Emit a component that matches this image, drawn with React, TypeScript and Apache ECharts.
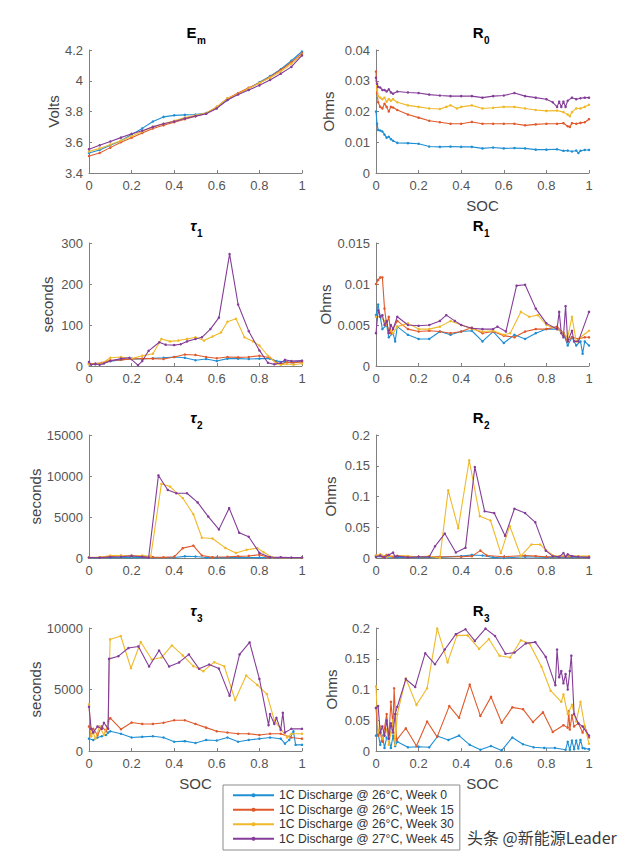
import React, { useEffect, useRef } from "react";
import * as echarts from "echarts";

// ---------- Data ----------
const SERIES_NAMES = [
  "1C Discharge @ 26°C, Week 0",
  "1C Discharge @ 26°C, Week 15",
  "1C Discharge @ 26°C, Week 30",
  "1C Discharge @ 27°C, Week 45",
];
const COLORS = ["#1f8fd4", "#e0592a", "#efb92a", "#843d98"];

const SOC_TICKS = [0, 0.2, 0.4, 0.6, 0.8, 1];

// Em (Volts)
const emW0 = [[0,3.53],[0.05,3.55],[0.1,3.58],[0.15,3.61],[0.2,3.65],[0.25,3.69],[0.3,3.735],[0.35,3.765],[0.4,3.775],[0.45,3.778],[0.5,3.78],[0.55,3.79],[0.6,3.825],[0.65,3.875],[0.7,3.915],[0.75,3.95],[0.8,3.99],[0.85,4.03],[0.9,4.075],[0.95,4.13],[1,4.19]];
const emW15 = [[0,3.51],[0.05,3.53],[0.1,3.565],[0.15,3.6],[0.2,3.63],[0.25,3.66],[0.3,3.69],[0.35,3.71],[0.4,3.73],[0.45,3.75],[0.5,3.77],[0.55,3.785],[0.6,3.83],[0.65,3.885],[0.7,3.92],[0.75,3.955],[0.8,3.985],[0.85,4.025],[0.9,4.07],[0.95,4.12],[1,4.18]];
const emW30 = [[0,3.54],[0.05,3.56],[0.1,3.585],[0.15,3.61],[0.2,3.64],[0.25,3.67],[0.3,3.7],[0.35,3.72],[0.4,3.74],[0.45,3.76],[0.5,3.775],[0.55,3.79],[0.6,3.83],[0.65,3.885],[0.7,3.915],[0.75,3.95],[0.8,3.985],[0.85,4.02],[0.9,4.06],[0.95,4.11],[1,4.17]];
const emW45 = [[0,3.555],[0.05,3.58],[0.1,3.605],[0.15,3.63],[0.2,3.655],[0.25,3.675],[0.3,3.7],[0.35,3.72],[0.4,3.735],[0.45,3.755],[0.5,3.77],[0.55,3.785],[0.6,3.82],[0.65,3.875],[0.7,3.91],[0.75,3.94],[0.8,3.97],[0.85,4.005],[0.9,4.045],[0.95,4.09],[1,4.165]];
const emTicks = [3.4, 3.6, 3.8, 4, 4.2];

// R0 (Ohms)
const r0W0 = [[0,0.020],[0.005,0.016],[0.01,0.014],[0.02,0.0138],[0.03,0.0135],[0.04,0.0125],[0.05,0.0115],[0.06,0.0118],[0.07,0.011],[0.08,0.0105],[0.1,0.0098],[0.15,0.0097],[0.2,0.0095],[0.25,0.0086],[0.3,0.0085],[0.35,0.0086],[0.4,0.0085],[0.45,0.0085],[0.5,0.008],[0.55,0.0083],[0.6,0.008],[0.65,0.0081],[0.7,0.008],[0.75,0.0076],[0.8,0.0076],[0.85,0.0077],[0.88,0.0072],[0.9,0.0073],[0.92,0.007],[0.94,0.0073],[0.95,0.0065],[0.96,0.0072],[0.98,0.0075],[1,0.0075]];
const r0W15 = [[0,0.033],[0.005,0.026],[0.01,0.023],[0.02,0.0215],[0.03,0.021],[0.04,0.0225],[0.05,0.0215],[0.06,0.020],[0.07,0.0215],[0.08,0.0213],[0.1,0.0205],[0.15,0.019],[0.2,0.018],[0.25,0.017],[0.3,0.0165],[0.35,0.016],[0.4,0.016],[0.45,0.0166],[0.5,0.016],[0.55,0.016],[0.6,0.016],[0.65,0.016],[0.7,0.0155],[0.75,0.0158],[0.8,0.016],[0.85,0.016],[0.88,0.0162],[0.9,0.0152],[0.91,0.015],[0.92,0.0162],[0.94,0.016],[0.96,0.0163],[0.98,0.0165],[1,0.0175]];
const r0W30 = [[0,0.030],[0.005,0.027],[0.01,0.025],[0.02,0.0245],[0.03,0.024],[0.04,0.0245],[0.05,0.0232],[0.06,0.024],[0.07,0.0235],[0.08,0.024],[0.1,0.023],[0.15,0.022],[0.2,0.0215],[0.25,0.021],[0.3,0.0208],[0.33,0.0215],[0.35,0.022],[0.38,0.021],[0.4,0.0215],[0.45,0.022],[0.5,0.021],[0.55,0.0212],[0.6,0.0215],[0.65,0.0215],[0.7,0.021],[0.75,0.0205],[0.8,0.0202],[0.85,0.0203],[0.88,0.0198],[0.9,0.019],[0.91,0.0185],[0.92,0.0198],[0.94,0.021],[0.96,0.021],[0.98,0.0215],[1,0.0222]];
const r0W45 = [[0,0.031],[0.005,0.029],[0.01,0.028],[0.02,0.0278],[0.03,0.027],[0.04,0.027],[0.05,0.0265],[0.06,0.0272],[0.07,0.0262],[0.08,0.0258],[0.1,0.0265],[0.15,0.0262],[0.2,0.026],[0.25,0.0255],[0.3,0.0252],[0.35,0.025],[0.4,0.025],[0.45,0.025],[0.5,0.0245],[0.55,0.025],[0.6,0.0252],[0.65,0.026],[0.7,0.025],[0.75,0.0245],[0.8,0.024],[0.83,0.023],[0.85,0.0215],[0.86,0.0232],[0.87,0.0215],[0.88,0.0232],[0.89,0.0215],[0.9,0.0235],[0.92,0.0245],[0.94,0.024],[0.96,0.0243],[0.98,0.0245],[1,0.0245]];
const r0Ticks = [0, 0.01, 0.02, 0.03, 0.04];

// tau1 (seconds)
const t1W0 = [[0,5],[0.03,4],[0.06,6],[0.1,12],[0.15,15],[0.2,18],[0.25,17],[0.3,19],[0.35,20],[0.4,22],[0.45,20],[0.5,14],[0.55,17],[0.6,12],[0.65,18],[0.7,18],[0.75,17],[0.8,18],[0.85,18],[0.88,12],[0.92,10],[0.95,9],[1,12]];
const t1W15 = [[0,6],[0.03,6],[0.06,8],[0.1,14],[0.15,15],[0.2,17],[0.25,18],[0.3,18],[0.35,17],[0.4,22],[0.45,28],[0.5,27],[0.55,22],[0.6,19],[0.65,22],[0.7,21],[0.75,22],[0.8,25],[0.85,20],[0.88,8],[0.9,5],[0.93,9],[0.96,8],[1,10]];
const t1W30 = [[0,4],[0.03,4],[0.06,6],[0.1,20],[0.15,22],[0.2,18],[0.25,25],[0.3,30],[0.34,66],[0.38,60],[0.42,62],[0.46,66],[0.5,70],[0.54,62],[0.58,72],[0.62,82],[0.65,108],[0.69,115],[0.73,70],[0.77,60],[0.8,50],[0.84,25],[0.88,6],[0.9,3],[0.93,5],[0.96,3],[1,6]];
const t1W45 = [[0,10],[0.01,3],[0.03,5],[0.05,3],[0.07,6],[0.1,12],[0.15,18],[0.19,20],[0.23,2],[0.25,12],[0.28,37],[0.33,58],[0.36,52],[0.4,51],[0.43,53],[0.46,60],[0.5,66],[0.53,70],[0.57,90],[0.61,118],[0.66,273],[0.7,150],[0.75,85],[0.8,38],[0.84,8],[0.87,4],[0.9,8],[0.92,15],[0.95,12],[1,13]];
const t1Ticks = [0, 100, 200, 300];

// R1 (Ohms)
const r1W0 = [[0,0.0062],[0.01,0.0075],[0.02,0.006],[0.03,0.0045],[0.05,0.005],[0.06,0.0035],[0.08,0.004],[0.09,0.003],[0.1,0.0048],[0.15,0.0038],[0.2,0.0033],[0.25,0.0033],[0.3,0.0042],[0.35,0.0038],[0.4,0.0042],[0.45,0.0043],[0.5,0.003],[0.55,0.0042],[0.6,0.0028],[0.65,0.0038],[0.7,0.0033],[0.75,0.004],[0.8,0.0045],[0.85,0.0045],[0.88,0.004],[0.9,0.0025],[0.92,0.0035],[0.94,0.0025],[0.96,0.003],[0.97,0.0015],[0.98,0.003],[1,0.0025]];
const r1W15 = [[0,0.010],[0.01,0.0105],[0.02,0.0108],[0.03,0.0108],[0.04,0.007],[0.05,0.005],[0.06,0.006],[0.07,0.004],[0.08,0.0045],[0.1,0.0055],[0.15,0.0045],[0.2,0.0042],[0.25,0.0043],[0.3,0.0042],[0.35,0.004],[0.4,0.0042],[0.45,0.0047],[0.5,0.004],[0.55,0.0042],[0.6,0.0037],[0.65,0.0035],[0.7,0.0042],[0.75,0.0045],[0.8,0.0045],[0.85,0.0048],[0.88,0.004],[0.9,0.003],[0.92,0.0035],[0.95,0.0033],[0.98,0.0035],[1,0.0035]];
const r1W30 = [[0,0.006],[0.02,0.006],[0.04,0.0055],[0.06,0.0045],[0.08,0.004],[0.1,0.0048],[0.15,0.0052],[0.2,0.0045],[0.25,0.0045],[0.3,0.0048],[0.35,0.0055],[0.4,0.005],[0.45,0.0045],[0.5,0.0042],[0.55,0.0043],[0.6,0.0038],[0.63,0.004],[0.68,0.0066],[0.72,0.006],[0.76,0.0062],[0.8,0.005],[0.85,0.0045],[0.88,0.004],[0.9,0.0035],[0.92,0.006],[0.94,0.003],[0.96,0.0035],[1,0.0043]];
const r1W45 = [[0,0.004],[0.01,0.0068],[0.02,0.006],[0.03,0.0062],[0.04,0.005],[0.05,0.0055],[0.06,0.004],[0.07,0.005],[0.08,0.0045],[0.1,0.006],[0.15,0.005],[0.2,0.0049],[0.25,0.005],[0.3,0.0055],[0.33,0.0062],[0.37,0.0055],[0.4,0.005],[0.45,0.0046],[0.5,0.0045],[0.55,0.0045],[0.57,0.0048],[0.61,0.0042],[0.66,0.0098],[0.7,0.0099],[0.75,0.007],[0.8,0.0052],[0.85,0.0045],[0.86,0.0066],[0.87,0.004],[0.88,0.0035],[0.89,0.0073],[0.9,0.003],[0.92,0.0043],[0.93,0.003],[0.95,0.003],[1,0.0066]];
const r1Ticks = [0, 0.005, 0.01, 0.015];

// tau2 (seconds)
const t2W0 = [[0,20],[0.1,50],[0.2,60],[0.3,40],[0.4,60],[0.45,200],[0.5,180],[0.55,60],[0.6,40],[0.7,60],[0.8,50],[0.9,30],[1,20]];
const t2W15 = [[0,50],[0.05,100],[0.1,200],[0.15,250],[0.2,300],[0.25,200],[0.3,100],[0.35,80],[0.4,150],[0.44,1200],[0.49,1500],[0.53,300],[0.58,100],[0.65,150],[0.7,200],[0.75,250],[0.8,400],[0.84,100],[0.9,50],[1,30]];
const t2W30 = [[0,80],[0.05,100],[0.1,300],[0.15,300],[0.2,200],[0.25,300],[0.29,200],[0.34,9040],[0.38,8710],[0.44,7310],[0.49,5340],[0.53,2470],[0.58,2380],[0.64,1230],[0.69,620],[0.74,1000],[0.79,1200],[0.82,700],[0.86,100],[0.9,50],[1,0]];
const t2W45 = [[0,60],[0.05,40],[0.1,120],[0.15,150],[0.2,250],[0.25,150],[0.28,50],[0.326,10070],[0.37,8300],[0.41,7900],[0.46,7900],[0.51,6780],[0.56,5050],[0.61,3490],[0.658,6080],[0.705,3080],[0.75,2590],[0.8,620],[0.85,100],[0.9,80],[0.95,60],[1,50]];
const t2Ticks = [0, 5000, 10000, 15000];

// R2 (Ohms)
const r2W0 = [[0,0.002],[0.1,0.001],[0.2,0.001],[0.3,0.001],[0.4,0.003],[0.45,0.005],[0.5,0.004],[0.55,0.001],[0.6,0.0],[0.7,0.002],[0.8,0.001],[0.9,0.001],[1,0.001]];
const r2W15 = [[0,0.004],[0.03,0.002],[0.05,0.005],[0.08,0.002],[0.1,0.003],[0.2,0.002],[0.3,0.002],[0.4,0.002],[0.45,0.003],[0.49,0.012],[0.52,0.004],[0.6,0.002],[0.7,0.004],[0.75,0.003],[0.8,0.002],[0.9,0.002],[1,0.002]];
const r2W30 = [[0,0.004],[0.02,0.006],[0.05,0.002],[0.1,0.004],[0.15,0.003],[0.2,0.002],[0.25,0.003],[0.3,0.0],[0.339,0.110],[0.386,0.0485],[0.4375,0.159],[0.4875,0.068],[0.5375,0.061],[0.586,0.008],[0.628,0.052],[0.68,0.003],[0.73,0.022],[0.77,0.022],[0.8,0.012],[0.84,0.003],[0.9,0.004],[0.95,0.003],[1,0.003]];
const r2W45 = [[0,0.002],[0.02,0.004],[0.04,0.001],[0.06,0.005],[0.08,0.009],[0.09,0.002],[0.1,0.003],[0.15,0.001],[0.2,0.002],[0.25,0.002],[0.277,0.019],[0.323,0.0397],[0.375,0.009],[0.42,0.0165],[0.464,0.148],[0.51,0.076],[0.555,0.073],[0.606,0.036],[0.65,0.08],[0.7,0.073],[0.748,0.058],[0.797,0.012],[0.83,0.003],[0.86,0.002],[0.88,0.008],[0.89,0.002],[0.9,0.006],[0.92,0.003],[0.95,0.002],[1,0.001]];
const r2Ticks = [0, 0.05, 0.1, 0.15, 0.2];

// tau3 (seconds)
const t3W0 = [[0,1000],[0.02,900],[0.04,1100],[0.06,1200],[0.08,1300],[0.09,1500],[0.1,1600],[0.15,1400],[0.2,1100],[0.25,1150],[0.3,1200],[0.35,1100],[0.4,750],[0.45,800],[0.5,650],[0.55,900],[0.6,850],[0.65,1100],[0.7,750],[0.75,900],[0.8,1000],[0.85,1100],[0.9,1000],[0.92,600],[0.94,900],[0.96,1600],[0.97,500],[1,500]];
const t3W15 = [[0,2000],[0.01,1200],[0.02,1800],[0.04,1300],[0.06,2000],[0.08,1600],[0.09,2400],[0.1,2670],[0.15,1770],[0.2,2320],[0.25,2200],[0.3,2200],[0.35,2300],[0.4,2500],[0.45,2500],[0.5,2200],[0.55,1900],[0.6,1600],[0.65,1500],[0.7,1400],[0.75,1400],[0.8,1300],[0.85,1400],[0.9,1400],[0.95,1100],[1,1000]];
const t3W30 = [[0,3800],[0.01,1200],[0.02,1500],[0.03,1000],[0.05,2000],[0.07,1300],[0.09,2300],[0.099,9070],[0.149,9350],[0.197,6730],[0.243,8860],[0.295,7440],[0.34,7600],[0.389,8580],[0.44,7770],[0.49,6900],[0.537,6490],[0.588,7220],[0.635,6890],[0.686,4140],[0.738,6130],[0.79,5370],[0.835,4630],[0.87,2500],[0.9,1800],[0.93,1100],[0.95,1400],[1,1400]];
const t3W45 = [[0,3600],[0.01,1800],[0.02,1500],[0.04,2000],[0.06,1800],[0.07,2300],[0.09,1800],[0.094,7490],[0.138,7710],[0.185,8370],[0.232,8500],[0.282,6870],[0.329,8170],[0.376,6870],[0.423,7200],[0.469,7850],[0.517,6680],[0.564,7030],[0.61,6700],[0.66,4500],[0.707,7850],[0.754,8830],[0.8,5860],[0.843,2100],[0.85,3000],[0.87,2200],[0.88,2700],[0.9,1700],[0.91,3100],[0.92,1500],[0.95,1800],[1,1800]];
const t3Ticks = [0, 5000, 10000];

// R3 (Ohms)
const r3W0 = [[0,0.025],[0.01,0.028],[0.02,0.01],[0.03,0.025],[0.04,0.005],[0.05,0.022],[0.06,0.02],[0.07,0.005],[0.08,0.025],[0.09,0.008],[0.1,0.015],[0.15,0.006],[0.2,0.007],[0.25,0.006],[0.29,0.024],[0.34,0.018],[0.39,0.025],[0.44,0.01],[0.49,0.002],[0.54,0.008],[0.59,0.001],[0.64,0.022],[0.69,0.011],[0.74,0.006],[0.79,0.005],[0.84,0.005],[0.89,0.002],[0.9,0.015],[0.91,0.002],[0.92,0.017],[0.93,0.003],[0.94,0.017],[0.95,0.004],[0.96,0.018],[0.97,0.005],[0.98,0.004],[1,0.003]];
const r3W15 = [[0,0.07],[0.01,0.025],[0.02,0.03],[0.03,0.015],[0.05,0.06],[0.06,0.02],[0.07,0.08],[0.08,0.04],[0.085,0.102],[0.097,0.018],[0.14,0.037],[0.19,0.008],[0.24,0.048],[0.287,0.023],[0.344,0.073],[0.39,0.054],[0.44,0.108],[0.49,0.057],[0.54,0.088],[0.59,0.046],[0.64,0.071],[0.69,0.068],[0.737,0.047],[0.784,0.063],[0.83,0.031],[0.88,0.042],[0.9,0.038],[0.905,0.065],[0.91,0.035],[0.92,0.058],[0.93,0.04],[0.95,0.045],[0.97,0.03],[0.98,0.04],[1,0.022]];
const r3W30 = [[0,0.105],[0.01,0.03],[0.02,0.04],[0.03,0.02],[0.05,0.035],[0.06,0.01],[0.07,0.03],[0.08,0.05],[0.09,0.01],[0.1,0.06],[0.14,0.118],[0.19,0.075],[0.24,0.102],[0.2875,0.199],[0.336,0.144],[0.38,0.188],[0.43,0.188],[0.484,0.166],[0.53,0.182],[0.58,0.155],[0.63,0.152],[0.68,0.18],[0.72,0.175],[0.777,0.137],[0.82,0.098],[0.87,0.08],[0.88,0.092],[0.9,0.06],[0.92,0.075],[0.94,0.048],[0.96,0.08],[0.98,0.04],[1,0.012]];
const r3W45 = [[0,0.07],[0.01,0.073],[0.02,0.03],[0.03,0.04],[0.04,0.025],[0.05,0.05],[0.06,0.02],[0.07,0.045],[0.08,0.03],[0.09,0.06],[0.1,0.072],[0.14,0.117],[0.184,0.104],[0.231,0.159],[0.277,0.141],[0.323,0.165],[0.375,0.19],[0.42,0.198],[0.464,0.179],[0.514,0.199],[0.559,0.187],[0.608,0.158],[0.65,0.16],[0.703,0.175],[0.748,0.177],[0.797,0.153],[0.842,0.107],[0.85,0.165],[0.86,0.12],[0.87,0.13],[0.88,0.11],[0.89,0.125],[0.9,0.1],[0.91,0.13],[0.917,0.155],[0.93,0.06],[0.95,0.045],[0.97,0.04],[1,0.025]];
const r3Ticks = [0, 0.05, 0.1, 0.15, 0.2];

// ---------- Panels ----------
const PANELS = [
  { title: "E", sub: "m", italic: false, series: [emW0, emW15, emW30, emW45], ticks: emTicks, yName: "Volts", xName: "" },
  { title: "R", sub: "0", italic: false, series: [r0W0, r0W15, r0W30, r0W45], ticks: r0Ticks, yName: "Ohms", xName: "SOC" },
  { title: "τ", sub: "1", italic: true, series: [t1W0, t1W15, t1W30, t1W45], ticks: t1Ticks, yName: "seconds", xName: "" },
  { title: "R", sub: "1", italic: false, series: [r1W0, r1W15, r1W30, r1W45], ticks: r1Ticks, yName: "Ohms", xName: "" },
  { title: "τ", sub: "2", italic: true, series: [t2W0, t2W15, t2W30, t2W45], ticks: t2Ticks, yName: "seconds", xName: "" },
  { title: "R", sub: "2", italic: false, series: [r2W0, r2W15, r2W30, r2W45], ticks: r2Ticks, yName: "Ohms", xName: "" },
  { title: "τ", sub: "3", italic: true, series: [t3W0, t3W15, t3W30, t3W45], ticks: t3Ticks, yName: "seconds", xName: "SOC" },
  { title: "R", sub: "3", italic: false, series: [r3W0, r3W15, r3W30, r3W45], ticks: r3Ticks, yName: "Ohms", xName: "SOC" },
];

// layout
const COL_LEFT = [89, 376];
const ROW_TOP = [50, 243, 435, 628];
const GRID_W = 213;
const GRID_H = 123;
const Y_NAME_GAP = [28, 40, 34, 43, 46, 38, 46, 37];

const FONT = "'Liberation Sans', Arial, Helvetica, sans-serif";
const AXIS_COLOR = "#808080";
const LABEL_COLOR = "#555555";

function fmt(v: number) {
  return String(parseFloat(v.toFixed(6)));
}

export default function App() {
  const ref = useRef<HTMLDivElement>(null);

  useEffect(() => {
    if (!ref.current) return;
    const chart = echarts.init(ref.current, null, { renderer: "svg" });

    const grids: any[] = [];
    const xAxes: any[] = [];
    const yAxes: any[] = [];
    const series: any[] = [];
    const graphics: any[] = [];

    PANELS.forEach((p, i) => {
      const row = Math.floor(i / 2);
      const col = i % 2;
      const left = COL_LEFT[col];
      const top = ROW_TOP[row];
      grids.push({ left, top, width: GRID_W, height: GRID_H, containLabel: false });

      xAxes.push({
        type: "value",
        gridIndex: i,
        min: SOC_TICKS[0],
        max: SOC_TICKS[SOC_TICKS.length - 1],
        interval: SOC_TICKS[1] - SOC_TICKS[0],
        name: p.xName,
        nameLocation: "middle",
        nameGap: 25,
        nameTextStyle: { fontSize: 15, color: "#444", fontFamily: FONT },
        axisLine: { show: true, onZero: false, lineStyle: { color: AXIS_COLOR, width: 1 } },
        axisTick: { show: true, inside: true, length: 3, lineStyle: { color: AXIS_COLOR } },
        splitLine: { show: false },
        axisLabel: { fontSize: 13, color: LABEL_COLOR, margin: 6, fontFamily: FONT, formatter: (v: number) => fmt(v) },
      });

      const t = p.ticks;
      yAxes.push({
        type: "value",
        gridIndex: i,
        min: t[0],
        max: t[t.length - 1],
        interval: t[1] - t[0],
        name: p.yName,
        nameLocation: "middle",
        nameGap: Y_NAME_GAP[i],
        nameTextStyle: { fontSize: 15, color: "#444", fontFamily: FONT },
        axisLine: { show: true, onZero: false, lineStyle: { color: AXIS_COLOR, width: 1 } },
        axisTick: { show: true, inside: true, length: 3, lineStyle: { color: AXIS_COLOR } },
        splitLine: { show: false },
        axisLabel: { fontSize: 13, color: LABEL_COLOR, margin: 6, fontFamily: FONT, formatter: (v: number) => fmt(v) },
      });

      p.series.forEach((d, k) => {
        series.push({
          type: "line",
          name: SERIES_NAMES[k],
          xAxisIndex: i,
          yAxisIndex: i,
          data: d,
          symbol: "circle",
          symbolSize: 2.5,
          showSymbol: true,
          lineStyle: { width: 1.1, color: COLORS[k] },
          itemStyle: { color: COLORS[k] },
          z: 2 + k,
          silent: true,
        });
      });

      const cx = left + GRID_W / 2;
      graphics.push({
        type: "text",
        x: cx + 1,
        y: top - 10,
        style: {
          text: p.title,
          fill: "#000",
          font: `${p.italic ? "italic " : ""}bold 15px ${FONT}`,
          align: "right",
          verticalAlign: "bottom",
        },
      });
      graphics.push({
        type: "text",
        x: cx + 1.5,
        y: top - 5,
        style: {
          text: p.sub,
          fill: "#000",
          font: `bold 10px ${FONT}`,
          align: "left",
          verticalAlign: "bottom",
        },
      });
    });

    graphics.push({
      type: "text",
      x: 467,
      y: 837,
      style: {
        text: "头条 @新能源Leader",
        fill: "#3a3a3a",
        font: "16px 'Noto Sans CJK SC', sans-serif",
        align: "left",
        verticalAlign: "middle",
      },
    });

    chart.setOption({
      animation: false,
      backgroundColor: "#ffffff",
      grid: grids,
      xAxis: xAxes,
      yAxis: yAxes,
      series,
      legend: {
        show: true,
        data: SERIES_NAMES,
        orient: "vertical",
        left: 223,
        top: 785,
        itemWidth: 41,
        itemHeight: 5,
        itemGap: 0,
        padding: [3, 6, 4, 9],
        borderColor: "#8c8c8c",
        borderWidth: 1,
        backgroundColor: "#ffffff",
        selectedMode: false,
        textStyle: { fontSize: 12.2, color: "#333", fontFamily: FONT, lineHeight: 14.5 },
      },
      graphic: graphics,
    });

    return () => chart.dispose();
  }, []);

  return (
    <div
      ref={ref}
      style={{ position: "absolute", left: 0, top: 0, width: 640, height: 858, background: "#fff" }}
    />
  );
}
